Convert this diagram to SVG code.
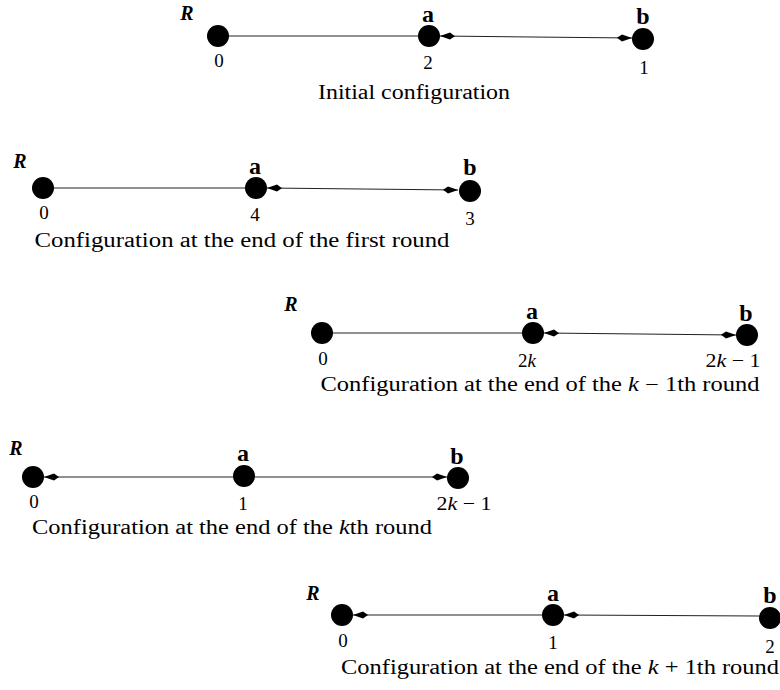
<svg xmlns="http://www.w3.org/2000/svg" width="780" height="690" viewBox="0 0 780 690">
<defs>
<style>
.node{fill:#000}
.edge{stroke:#222;stroke-width:1.1;fill:none}
.arr{marker-end:url(#ah)}
.arrs{marker-start:url(#ahs)}
text{font-family:"Liberation Serif","Times New Roman",serif;fill:#000}
.num{font-size:19px;text-anchor:middle}
.nm{font-size:24px;font-weight:bold;text-anchor:middle}
.R{font-size:20px;font-weight:bold;font-style:italic;text-anchor:middle}
.cap{font-size:20px;text-anchor:middle}
.it{font-style:italic}
</style>
<marker id="ah" viewBox="-17 -5 18 10" refX="0" refY="0" markerWidth="18" markerHeight="10" markerUnits="userSpaceOnUse" orient="auto">
<path d="M0,0 L-10,-3.5 L-15,0 L-10,3.5 Z" fill="#000"/>
</marker>
<marker id="ahs" viewBox="-17 -5 18 10" refX="0" refY="0" markerWidth="18" markerHeight="10" markerUnits="userSpaceOnUse" orient="auto-start-reverse">
<path d="M0,0 L-10,-3.5 L-15,0 L-10,3.5 Z" fill="#000"/>
</marker>
</defs>

<g id="connectors">
<line class="edge" x1="229" y1="36" x2="418" y2="36"/>
<line class="edge arr arrs" x1="440" y1="36" x2="632" y2="38"/>
<line class="edge" x1="54" y1="188" x2="245" y2="188"/>
<line class="edge arr arrs" x1="267" y1="188" x2="458" y2="190"/>
<line class="edge" x1="333" y1="333" x2="522" y2="333"/>
<line class="edge arr arrs" x1="544" y1="333" x2="736" y2="335"/>
<line class="edge arrs" x1="44" y1="477" x2="233" y2="477"/>
<line class="edge arr" x1="255" y1="477" x2="447" y2="477"/>
<line class="edge arrs" x1="353" y1="615" x2="542" y2="615"/>
<line class="edge arrs" x1="564" y1="615" x2="759" y2="616"/>
</g>

<g id="row1">
<g id="r1-R"><circle class="node" cx="218" cy="36" r="11"/><text class="R" x="187" y="20">R</text><text class="num" x="219" y="67">0</text></g>
<g id="r1-a"><circle class="node" cx="429" cy="36" r="11"/><text class="nm" x="428" y="22">a</text><text class="num" x="428" y="69">2</text></g>
<g id="r1-b"><circle class="node" cx="643" cy="39" r="11"/><text class="nm" x="643" y="24">b</text><text class="num" x="644" y="74">1</text></g>
<g id="r1-cap"><text class="cap" x="414" y="99" textLength="192" lengthAdjust="spacingAndGlyphs">Initial configuration</text></g>
</g>

<g id="row2">
<g id="r2-R"><circle class="node" cx="43" cy="188" r="11"/><text class="R" x="20" y="168">R</text><text class="num" x="44" y="219">0</text></g>
<g id="r2-a"><circle class="node" cx="256" cy="188" r="11"/><text class="nm" x="255" y="174">a</text><text class="num" x="255" y="221">4</text></g>
<g id="r2-b"><circle class="node" cx="470" cy="191" r="11"/><text class="nm" x="470" y="175">b</text><text class="num" x="470" y="225">3</text></g>
<g id="r2-cap"><text class="cap" x="242" y="247" textLength="415" lengthAdjust="spacingAndGlyphs">Configuration at the end of the first round</text></g>
</g>

<g id="row3">
<g id="r3-R"><circle class="node" cx="322" cy="333" r="11"/><text class="R" x="291" y="311">R</text><text class="num" x="323" y="365">0</text></g>
<g id="r3-a"><circle class="node" cx="533" cy="333" r="11"/><text class="nm" x="532" y="319">a</text><text class="num" x="527" y="367">2<tspan class="it">k</tspan></text></g>
<g id="r3-b"><circle class="node" cx="747" cy="335" r="11"/><text class="nm" x="746" y="321">b</text><text class="num" x="733" y="367" textLength="55" lengthAdjust="spacingAndGlyphs">2<tspan class="it">k</tspan> − 1</text></g>
<g id="r3-cap"><text class="cap" x="540" y="391" textLength="439" lengthAdjust="spacingAndGlyphs">Configuration at the end of the <tspan class="it">k</tspan> − 1th round</text></g>
</g>

<g id="row4">
<g id="r4-R"><circle class="node" cx="33" cy="477" r="11"/><text class="R" x="16" y="455">R</text><text class="num" x="34" y="508">0</text></g>
<g id="r4-a"><circle class="node" cx="244" cy="476" r="11"/><text class="nm" x="243" y="461">a</text><text class="num" x="243" y="510">1</text></g>
<g id="r4-b"><circle class="node" cx="458" cy="478" r="11"/><text class="nm" x="457" y="464">b</text><text class="num" x="464" y="510" textLength="55" lengthAdjust="spacingAndGlyphs">2<tspan class="it">k</tspan> − 1</text></g>
<g id="r4-cap"><text class="cap" x="232" y="534" textLength="400" lengthAdjust="spacingAndGlyphs">Configuration at the end of the <tspan class="it">k</tspan>th round</text></g>
</g>

<g id="row5">
<g id="r5-R"><circle class="node" cx="342" cy="615" r="11"/><text class="R" x="313" y="600">R</text><text class="num" x="343" y="647">0</text></g>
<g id="r5-a"><circle class="node" cx="553" cy="615" r="11"/><text class="nm" x="553" y="601">a</text><text class="num" x="553" y="649">1</text></g>
<g id="r5-b"><circle class="node" cx="770" cy="618" r="11"/><text class="nm" x="770" y="603">b</text><text class="num" x="770" y="653">2</text></g>
<g id="r5-cap"><text class="cap" x="560" y="674" textLength="438" lengthAdjust="spacingAndGlyphs">Configuration at the end of the <tspan class="it">k</tspan> + 1th round</text></g>
</g>
</svg>
